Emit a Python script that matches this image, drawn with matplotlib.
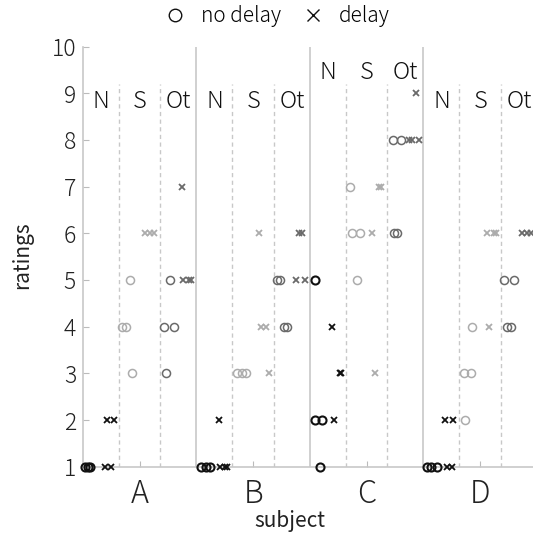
import numpy as np
import matplotlib; matplotlib.use('Agg')
import matplotlib.pyplot as plt
from matplotlib.lines import Line2D

plt.rcParams['font.family'] = ['Noto Sans CJK JP', 'DejaVu Sans']
plt.rcParams['font.weight'] = 'light'

subjects = ['A', 'B', 'C', 'D']
conditions = ['N', 'S', 'Ot']

# every point: subject index, place inside the subject column (0-1), rating
n_nodelay_subj = [0, 0, 0, 1, 1, 1, 2, 2, 2, 2, 3, 3, 3]
n_nodelay_pos = [0.02, 0.04, 0.06, 0.04, 0.08, 0.12, 0.09, 0.04, 0.04, 0.11, 0.03, 0.07, 0.12]
n_nodelay_rating = [1, 1, 1, 1, 1, 1, 1, 5, 2, 2, 1, 1, 1]

n_delay_subj = [0, 0, 0, 0, 1, 1, 1, 1, 2, 2, 2, 2, 3, 3, 3, 3]
n_delay_pos = [0.19, 0.25, 0.21, 0.27, 0.21, 0.25, 0.27, 0.20, 0.21, 0.19, 0.26, 0.27, 0.21, 0.25, 0.19, 0.26]
n_delay_rating = [1, 1, 2, 2, 1, 1, 1, 2, 2, 4, 3, 3, 1, 1, 2, 2]

s_nodelay_subj = [0, 0, 0, 0, 1, 1, 1, 2, 2, 2, 2, 3, 3, 3, 3]
s_nodelay_pos = [0.41, 0.34, 0.38, 0.43, 0.36, 0.40, 0.44, 0.35, 0.37, 0.44, 0.41, 0.37, 0.36, 0.42, 0.43]
s_nodelay_rating = [5, 4, 4, 3, 3, 3, 3, 7, 6, 6, 5, 2, 3, 3, 4]

s_delay_subj = [0, 0, 0, 1, 1, 1, 1, 2, 2, 2, 2, 3, 3, 3, 3]
s_delay_pos = [0.55, 0.59, 0.63, 0.55, 0.57, 0.61, 0.64, 0.61, 0.63, 0.55, 0.57, 0.58, 0.56, 0.62, 0.64]
s_delay_rating = [6, 6, 6, 6, 4, 4, 3, 7, 7, 6, 3, 4, 6, 6, 6]

ot_nodelay_subj = [0, 0, 0, 0, 1, 1, 1, 1, 2, 2, 2, 2, 3, 3, 3, 3]
ot_nodelay_pos = [0.77, 0.71, 0.80, 0.73, 0.71, 0.74, 0.77, 0.80, 0.73, 0.80, 0.74, 0.77, 0.71, 0.80, 0.74, 0.77]
ot_nodelay_rating = [5, 4, 4, 3, 5, 5, 4, 4, 8, 8, 6, 6, 5, 5, 4, 4]

ot_delay_subj = [0, 0, 0, 0, 1, 1, 1, 1, 2, 2, 2, 2, 3, 3, 3]
ot_delay_pos = [0.87, 0.88, 0.93, 0.95, 0.88, 0.96, 0.90, 0.93, 0.87, 0.90, 0.96, 0.93, 0.87, 0.91, 0.95]
ot_delay_rating = [7, 5, 5, 5, 5, 5, 6, 6, 8, 8, 8, 9, 6, 6, 6]

groups = [
    ('N', False, n_nodelay_subj, n_nodelay_pos, n_nodelay_rating),
    ('N', True, n_delay_subj, n_delay_pos, n_delay_rating),
    ('S', False, s_nodelay_subj, s_nodelay_pos, s_nodelay_rating),
    ('S', True, s_delay_subj, s_delay_pos, s_delay_rating),
    ('Ot', False, ot_nodelay_subj, ot_nodelay_pos, ot_nodelay_rating),
    ('Ot', True, ot_delay_subj, ot_delay_pos, ot_delay_rating),
]
colors = {'N': '#111111', 'S': '#acacac', 'Ot': '#6a6a6a'}
line_gray = '#c8c8c8'

fig = plt.figure(figsize=(5.33, 5.35), dpi=100)
ax = fig.add_axes([0.1557, 0.1277, 0.8518, 0.7852])

# column borders and condition dividers
for k in range(1, len(subjects)):
    ax.axvline(k, color=line_gray, lw=1.2, zorder=1)
for k in range(len(subjects)):
    ax.vlines([k + 0.315, k + 0.68], 1, 9.2, colors=line_gray, lw=1,
              linestyles=(0, (3, 2.5)), zorder=1)
    label_y = 9.45 if subjects[k] == 'C' else 8.83
    for c, cx in zip(conditions, [0.16, 0.5, 0.84]):
        ax.text(k + cx, label_y, c, ha='center', va='center', fontsize=17, color='#111111')

for cond, delay, subj, pos, rating in groups:
    x = np.array(subj) + np.array(pos)
    if delay:
        ax.plot(x, rating, ls='none', marker='x', ms=4, mew=1.3,
                color=colors[cond], clip_on=False, zorder=3)
    else:
        ax.plot(x, rating, ls='none', marker='o', ms=5.8, mew=1.1 if cond != 'N' else 1.5,
                mfc='none', mec=colors[cond], clip_on=False, zorder=3)

ax.set_xlim(0, len(subjects))
ax.set_ylim(1, 10)
ax.set_yticks(range(1, 11))
ax.set_xticks(np.arange(len(subjects)) + 0.5)
ax.set_xticklabels(subjects)
ax.tick_params(axis='y', direction='in', length=4, color='#bbbbbb', pad=5,
               labelsize=16.5, labelcolor='#222222')
ax.tick_params(axis='x', direction='in', length=4, color='#bbbbbb', pad=8,
               labelsize=22, labelcolor='#222222')
for side in ['top', 'right']:
    ax.spines[side].set_visible(False)
for side in ['left', 'bottom']:
    ax.spines[side].set_color(line_gray)
    ax.spines[side].set_linewidth(1.2)

ax.set_xlabel('subject', fontsize=15, color='#222222', va='center')
ax.xaxis.set_label_coords(0.456, -0.129)
ax.set_ylabel('ratings', fontsize=15, color='#222222', va='center')
ax.yaxis.set_label_coords(-0.134, 0.504)

handles = [Line2D([], [], ls='none', marker='o', ms=9, mew=1, mfc='none', mec='#111111'),
           Line2D([], [], ls='none', marker='x', ms=8, mew=1, color='#111111')]
fig.legend(handles, ['no delay', 'delay'], loc='center', bbox_to_anchor=(0.52, 0.97),
           ncol=2, frameon=False, fontsize=15, handlelength=1, handletextpad=0.75,
           columnspacing=1.0)

fig.savefig('out.png', dpi=100)
